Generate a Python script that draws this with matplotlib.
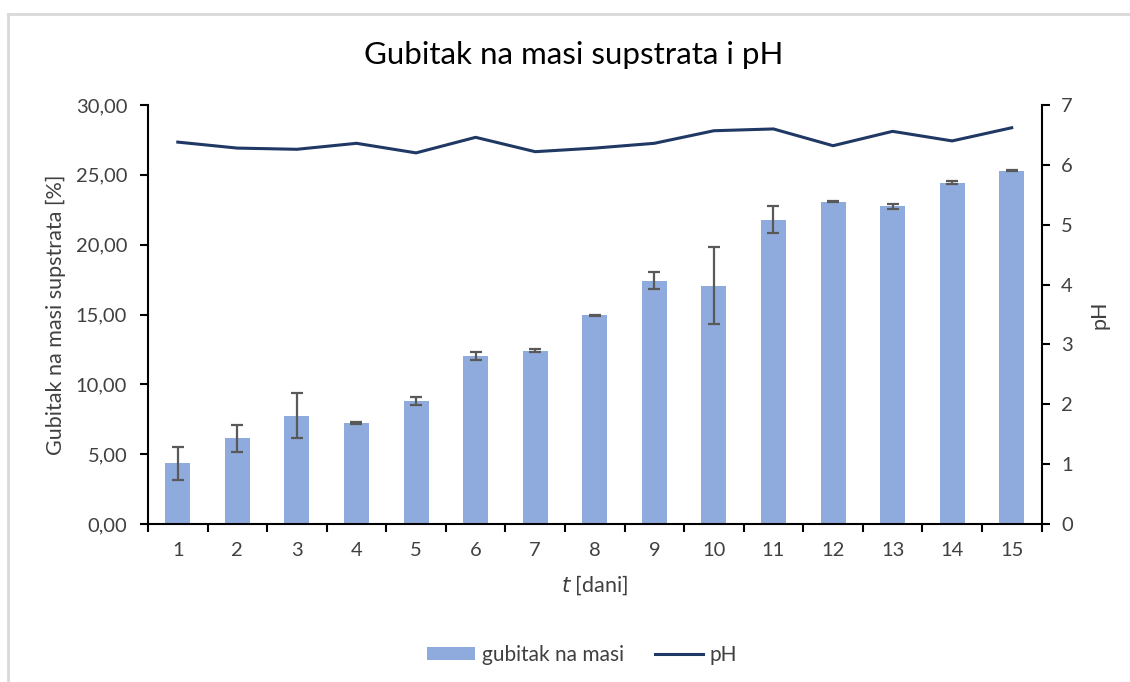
import matplotlib
matplotlib.use("Agg")
import matplotlib.pyplot as plt
from matplotlib.lines import Line2D
from matplotlib.patches import Patch
import numpy as np

days = [1, 2, 3, 4, 5, 6, 7, 8, 9, 10, 11, 12, 13, 14, 15]
mass_loss = [4.35, 6.13, 7.75, 7.25, 8.80, 12.02, 12.42, 14.94, 17.42, 17.06,
             21.80, 23.07, 22.74, 24.45, 25.29]
mass_err = [1.19, 0.96, 1.60, 0.07, 0.30, 0.30, 0.14, 0.05, 0.60, 2.77,
            0.97, 0.05, 0.20, 0.14, 0.05]
ph = [6.38, 6.28, 6.26, 6.36, 6.20, 6.46, 6.22, 6.28, 6.36, 6.57,
      6.60, 6.32, 6.56, 6.40, 6.62]

left_ticks = [0, 5, 10, 15, 20, 25, 30]
left_labels = ["0,00", "5,00", "10,00", "15,00", "20,00", "25,00", "30,00"]
right_ticks = [0, 1, 2, 3, 4, 5, 6, 7]

plt.rcParams['font.family'] = ['Lato', 'DejaVu Sans']

BAR = "#8FAADC"
LINE = "#203864"
ERR = "#595959"
TXT = "#404040"

fig = plt.figure(figsize=(11.3, 6.82), dpi=100)
ax = fig.add_axes([148/1130, 1 - 524/682, (1041.5-148)/1130, (524-105)/682])

x = np.array(days)
ax.bar(x, mass_loss, width=0.42, color=BAR, zorder=2)
ax.errorbar(x, mass_loss, yerr=mass_err, fmt='none', ecolor=ERR,
            elinewidth=1.6, capsize=4, capthick=1.6, zorder=3)
ax.set_xlim(0.5, 15.5)
ax.set_ylim(0, 30)
ax.set_yticks(left_ticks)
ax.set_yticklabels(left_labels)
ax.set_xticks(x)
ax.set_xticklabels([str(d) for d in days])
ax.set_xticks(np.arange(0.5, 16, 1), minor=True)
ax.tick_params(axis='x', which='major', length=0, pad=13, labelsize=14.5, colors=TXT)
ax.tick_params(axis='x', which='minor', length=6, width=1.5, color='black', direction='out')
ax.tick_params(axis='y', length=6, width=1.5, color='black', labelsize=14.5, labelcolor=TXT, pad=9)
for s in ['top', 'right']:
    ax.spines[s].set_visible(False)
for s in ['left', 'bottom']:
    ax.spines[s].set_linewidth(1.5)
    ax.spines[s].set_color('black')
ax.set_ylabel("Gubitak na masi supstrata [%]", fontsize=15.5, color=TXT, labelpad=7)
ax.set_xlabel(r"$\it{t}$ [dani]", fontsize=15.5, color=TXT, labelpad=10)

ax2 = ax.twinx()
ax2.plot(x, ph, color=LINE, linewidth=2.2, zorder=4)
ax2.set_ylim(0, 7)
ax2.set_yticks(right_ticks)
ax2.tick_params(axis='y', length=6, width=1.5, color='black', labelsize=14.5, labelcolor=TXT, pad=8)
for s in ['top', 'left', 'bottom']:
    ax2.spines[s].set_visible(False)
ax2.spines['right'].set_linewidth(1.5)
ax2.spines['right'].set_color('black')
ax2.set_ylabel("pH", fontsize=15.5, color=TXT, rotation=90, labelpad=12)

fig.text(574/1130, 1 - 55/682, "Gubitak na masi supstrata i pH", ha='center', va='center',
         fontsize=22.5, color='black')

handles = [Patch(facecolor=BAR, edgecolor='none'), Line2D([0], [0], color=LINE, lw=2.2)]
fig.legend(handles, ["gubitak na masi", "pH"], loc='center', bbox_to_anchor=(582/1130, 1 - 655/682),
           ncol=2, frameon=False, fontsize=15, handlelength=2.3, handleheight=0.6,
           columnspacing=1.5, handletextpad=0.3, labelcolor=TXT)

# chart border (light gray, top and left edges visible)
fig.add_artist(Line2D([8/1130, 8/1130], [0, 1 - 14/682], transform=fig.transFigure,
                      color="#d9d9d9", lw=2.0))
fig.add_artist(Line2D([8/1130, 1], [1 - 14/682, 1 - 14/682], transform=fig.transFigure,
                      color="#d9d9d9", lw=2.0))

fig.savefig("out.png", dpi=100, facecolor='white')
